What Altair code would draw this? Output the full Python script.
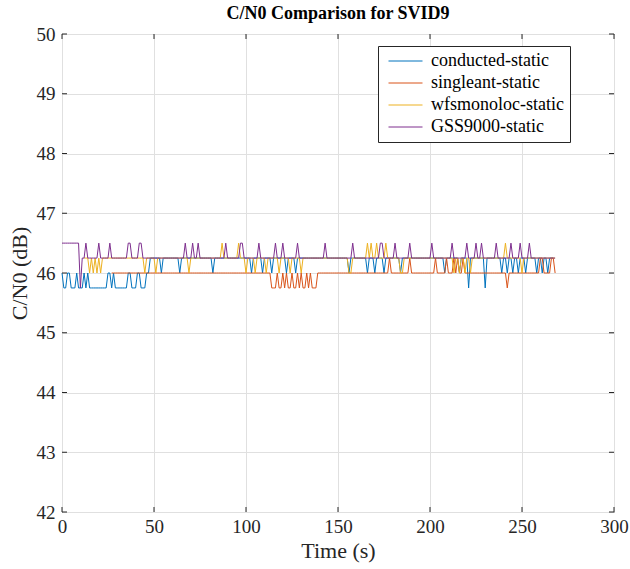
import altair as alt
import pandas as pd

# Series names (legend order) and MATLAB default line colours
SERIES = ["conducted-static", "singleant-static", "wfsmonoloc-static", "GSS9000-static"]
COLORS = ["#0072BD", "#D95319", "#EDB120", "#7E2F8E"]

# Each series is sampled once per second.  A series is described by its time span,
# a stepwise baseline [(from_t, level), ...] and the seconds where it departs from it.

# conducted-static
COND_SPAN = (0, 267)
COND_BASE = [(0, 45.75), (46, 46.0), (48, 46.25)]
COND_EVENTS = {
    46.0: [0, 3, 4, 8, 12, 14, 25, 26, 28, 36, 37, 41, 42, 54, 64, 82, 103, 109, 114,
           122, 127, 156, 166, 170, 175, 184, 208, 216, 239, 242, 245, 248, 252, 258,
           261, 264],
    45.75: [221, 230],
}

# singleant-static
SING_SPAN = (27, 268)
SING_BASE = [(27, 46.0)]
SING_EVENTS = {
    45.75: [114, 115, 116, 118, 119, 121, 123, 124, 126, 127, 129, 131, 132, 134, 136,
            137, 138, 242],
    46.25: [178, 189, 203, 209, 213, 215, 218, 260, 261, 266, 267],
}

# wfsmonoloc-static
WFS_SPAN = (12, 268)
WFS_BASE = [(12, 46.25)]
WFS_EVENTS = {
    46.0: [15, 17, 19, 21, 45, 51, 69, 100, 105, 111, 118, 124, 130, 156, 157, 184,
           185, 213, 216, 219, 222, 250],
    46.5: [87, 96, 166, 168, 171, 176, 241],
}

# GSS9000-static
GSS_SPAN = (0, 268)
GSS_BASE = [(0, 46.5), (11, 46.25)]
GSS_EVENTS = {
    45.75: [10],
    46.5: [13, 20, 26, 36, 37, 42, 43, 67, 71, 74, 89, 97, 98, 107, 116, 120, 128, 143,
           158, 173, 174, 181, 189, 201, 212, 220, 225, 228, 236, 244, 249, 254],
}

X_TICKS = [0, 50, 100, 150, 200, 250, 300]
Y_TICKS = [42, 43, 44, 45, 46, 47, 48, 49, 50]


def build(name, span, base, events):
    rows = []
    for t in range(span[0], span[1] + 1):
        level = [lv for start, lv in base if start <= t][-1]
        for lv, times in events.items():
            if t in times:
                level = lv
        rows.append({"t": t, "value": level, "series": name})
    return rows


records = (
    build(SERIES[0], COND_SPAN, COND_BASE, COND_EVENTS)
    + build(SERIES[1], SING_SPAN, SING_BASE, SING_EVENTS)
    + build(SERIES[2], WFS_SPAN, WFS_BASE, WFS_EVENTS)
    + build(SERIES[3], GSS_SPAN, GSS_BASE, GSS_EVENTS)
)
df = pd.DataFrame(records)
xt = pd.DataFrame({"tick": X_TICKS})
yt = pd.DataFrame({"tick": Y_TICKS})

W, H = 552, 478
TICK_LEN = 5
FONT = "Liberation Serif"
INK = "#262626"

x_scale = alt.Scale(domain=[0, 300], nice=False, zero=False)
y_scale = alt.Scale(domain=[42, 50], nice=False, zero=False)
x_axis = alt.Axis(title="Time (s)", values=X_TICKS, grid=True, ticks=False,
                  domain=False, labelFontSize=19, titleFontSize=22,
                  labelPadding=5, titlePadding=4, labelFlush=False)
y_axis = alt.Axis(title="C/N0 (dB)", values=Y_TICKS, grid=True, ticks=False,
                  domain=False, labelFontSize=19, titleFontSize=22,
                  labelPadding=7, titlePadding=5, labelFlush=False)

lines = alt.Chart(df).mark_line(strokeWidth=1).encode(
    x=alt.X("t:Q", scale=x_scale, axis=x_axis),
    y=alt.Y("value:Q", scale=y_scale, axis=y_axis),
    color=alt.Color("series:N", scale=alt.Scale(domain=SERIES, range=COLORS),
                    legend=alt.Legend(title=None, orient="none", legendX=316, legendY=12,
                                      fillColor="white", strokeColor=INK, padding=6,
                                      symbolType="stroke", symbolSize=1156,
                                      symbolStrokeWidth=1, symbolOffset=4,
                                      labelOffset=8, clipHeight=18, rowPadding=4,
                                      labelFont=FONT, labelFontSize=18,
                                      labelColor="black", cornerRadius=0)),
)

# Inward-pointing tick marks on all four sides of the box
x_tick = alt.X("tick:Q", scale=x_scale, axis=x_axis)
y_tick = alt.Y("tick:Q", scale=y_scale, axis=y_axis)
ticks_bottom = alt.Chart(xt).mark_rule(color=INK, strokeWidth=1).encode(
    x=x_tick, y=alt.value(H), y2=alt.value(H - TICK_LEN))
ticks_top = alt.Chart(xt).mark_rule(color=INK, strokeWidth=1).encode(
    x=x_tick, y=alt.value(0), y2=alt.value(TICK_LEN))
ticks_left = alt.Chart(yt).mark_rule(color=INK, strokeWidth=1).encode(
    y=y_tick, x=alt.value(0), x2=alt.value(TICK_LEN))
ticks_right = alt.Chart(yt).mark_rule(color=INK, strokeWidth=1).encode(
    y=y_tick, x=alt.value(W), x2=alt.value(W - TICK_LEN))

chart = (
    alt.layer(lines, ticks_bottom, ticks_top, ticks_left, ticks_right)
    .properties(
        width=W, height=H,
        title=alt.TitleParams("C/N0 Comparison for SVID9", font=FONT, fontSize=18,
                              fontWeight="bold", color="black", anchor="middle",
                              offset=2),
        padding={"left": 62, "top": 34, "right": 16, "bottom": 57},
        autosize=alt.AutoSizeParams(type="none"),
        background="white",
    )
    .configure_view(stroke=INK, strokeWidth=1)
    .configure_axis(labelFont=FONT, titleFont=FONT, labelColor=INK, titleColor=INK,
                    titleFontWeight="normal", gridColor="#e0e0e0", gridWidth=1)
)

chart.save("out.html", embed_options={"renderer": "svg", "actions": False})
